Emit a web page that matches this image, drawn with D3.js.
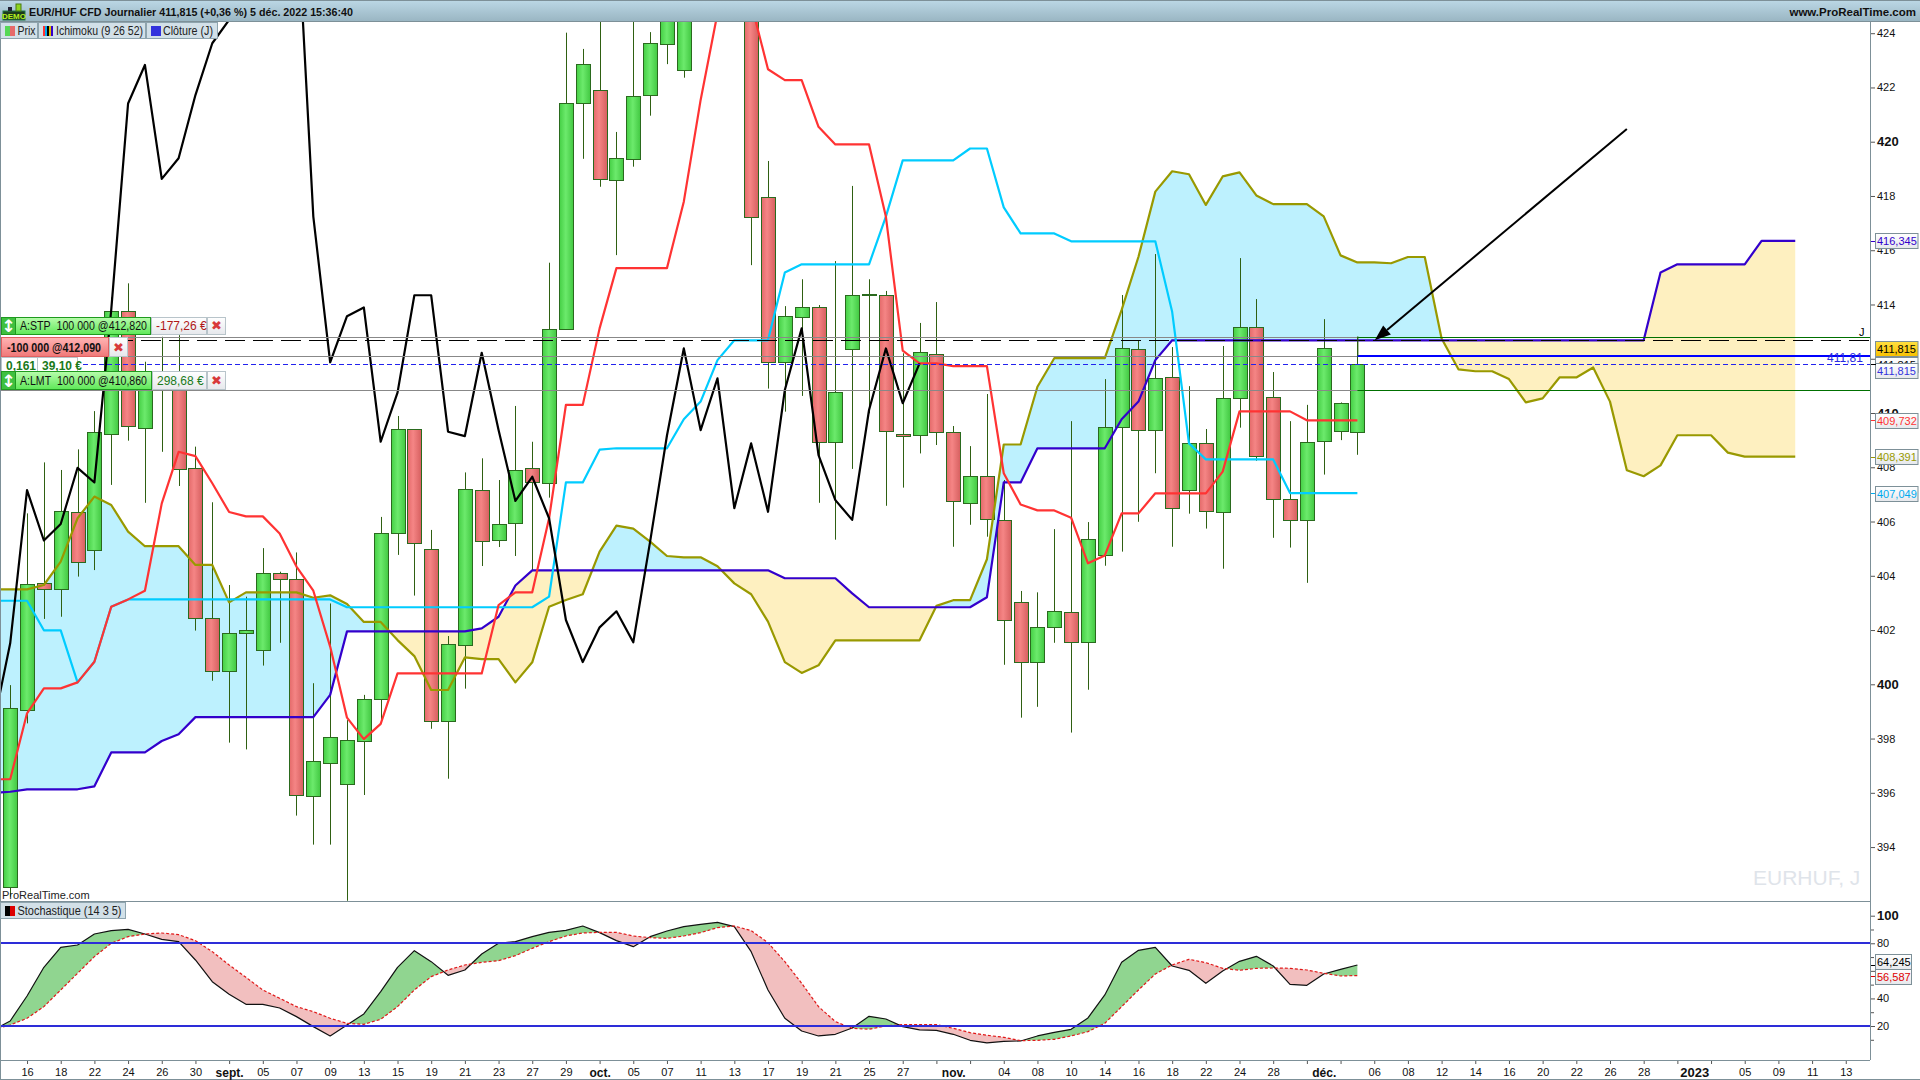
<!DOCTYPE html>
<html><head><meta charset="utf-8">
<script src="https://cdn.jsdelivr.net/npm/d3@7"></script>
<style>
html,body{margin:0;padding:0;background:#fff;overflow:hidden}
svg{display:block}
text{font-family:"Liberation Sans",Arial,sans-serif;font-size:11px}
</style></head><body>
<svg id="c" width="1920" height="1080"></svg>
<script>
// ---- candles, index 0..80 (41-43 lie above the visible range)
const candleOpen=[392.52,399.05,403.72,403.50,406.34,404.97,409.25,413.77,409.47,410.91,
411.52,407.96,402.43,400.48,401.88,401.25,404.09,403.87,395.87,397.09,
396.31,397.90,399.45,405.56,409.40,404.97,398.63,401.44,407.15,405.31,
405.93,407.96,407.41,413.08,421.41,421.89,418.58,419.39,421.70,423.59,
422.62,424.7,426.0,427.0,425.0,417.95,411.87,413.53,413.89,408.92,
412.35,414.32,414.34,409.21,409.18,412.16,409.29,406.67,407.67,406.04,
403.02,400.81,402.10,402.65,401.55,404.75,409.47,412.35,409.36,411.31,
407.15,408.88,406.34,410.54,413.16,410.58,406.82,406.04,408.96,409.32,409.32];
const candleClose=[399.11,403.71,403.50,406.38,404.50,409.31,413.77,409.54,410.97,411.40,
407.96,402.43,400.48,401.88,401.99,404.09,403.87,395.91,397.16,398.04,
397.93,399.45,405.56,409.40,405.20,398.63,401.47,407.19,405.27,405.90,
407.90,407.44,413.08,421.41,422.85,418.61,419.39,421.70,423.63,424.73,
424.73,426.0,427.0,425.0,417.21,411.87,413.56,413.89,408.92,410.76,
414.34,414.37,409.32,409.14,412.24,409.29,406.74,407.67,406.08,402.36,
400.81,402.10,402.69,401.55,405.34,409.47,412.38,409.36,411.28,406.49,
408.88,406.37,410.54,413.16,408.41,406.82,406.04,408.92,412.38,410.36,411.815];
const candleHigh=[399.97,406.30,408.18,407.90,408.66,410.07,414.26,414.78,411.89,412.81,
412.87,408.76,406.71,403.66,403.23,405.02,404.15,404.86,400.04,402.98,
398.68,399.61,406.17,409.89,409.40,405.69,401.78,407.81,408.33,407.53,
410.26,408.94,415.54,424.02,423.42,425.2,420.36,425.22,424.04,425.2,
425.3,426.5,427.5,427.5,426.0,419.29,413.94,414.93,413.98,415.60,
418.37,414.93,414.50,412.20,413.32,414.09,409.52,408.78,410.70,407.53,
403.44,403.39,405.72,409.70,405.98,411.25,414.35,412.69,415.86,412.43,
410.99,409.41,412.47,415.71,414.20,411.51,409.70,410.30,413.46,410.39,412.81];
const candleLow=[392.17,398.56,402.41,402.49,403.97,404.21,407.35,408.98,406.69,408.57,
407.31,401.98,400.13,397.85,397.60,400.69,401.53,395.16,394.09,394.09,
392.02,395.92,398.56,404.77,403.27,398.36,396.52,399.84,404.36,405.06,
404.73,404.21,406.88,413.08,419.37,418.34,415.82,419.08,420.96,422.86,
422.36,424.5,425.8,424.8,415.45,410.90,410.05,410.63,406.69,405.33,
407.94,409.99,406.58,407.25,408.51,408.82,405.07,405.88,405.44,400.72,
398.77,399.17,401.53,398.22,399.80,404.37,404.89,405.99,407.78,405.07,
406.29,405.74,404.26,409.46,408.24,405.40,405.04,403.74,407.73,409.00,408.46];

// ---- Ichimoku, every series starts at index -1
const chikou=[398.49,401.51,407.16,405.30,405.91,407.98,407.44,413.80,421.41,422.83,418.63,
419.39,421.72,423.63,424.49,426.4,428.3,430.1,428.9,417.24,411.87,
413.57,413.89,408.94,410.75,414.34,414.34,409.31,409.15,412.22,409.37,
406.76,407.65,406.12,402.37,400.82,402.10,402.69,401.55,405.26,409.17,
412.38,409.37,411.28,406.49,408.88,406.36,410.85,413.12,408.45,406.79,
406.06,410.11,412.38,410.36,411.83];
const tenkan=[396.50,396.50,398.93,399.85,399.85,400.07,400.83,402.86,403.13,403.45,406.67,
408.57,408.41,407.41,406.35,406.19,406.19,405.56,404.34,403.45,401.39,
398.77,397.98,398.54,400.40,400.40,400.40,400.40,400.40,400.40,402.92,
403.39,403.39,406.12,410.30,410.30,413.12,415.34,415.34,415.34,415.34,
417.79,421.54,424.73,426.45,425.10,422.67,422.27,422.27,420.55,419.90,
419.90,419.90,417.24,412.30,411.83,411.83,411.73,411.73,411.73,407.78,
406.63,406.41,406.41,406.14,404.46,404.75,406.30,406.30,407.04,407.04,
407.04,407.04,407.84,410.06,410.06,410.06,410.06,409.732,409.732,409.732,409.732];
const kijun=[403.08,403.08,403.08,401.99,401.99,400.07,400.83,402.86,403.13,403.13,403.13,
403.13,403.13,403.13,403.13,403.13,403.13,403.13,403.13,403.13,403.13,
402.84,402.84,402.84,402.84,402.84,402.84,402.84,402.84,402.84,402.84,
402.84,402.84,403.23,407.44,407.44,408.65,408.70,408.70,408.70,408.70,
409.77,410.42,411.95,412.68,412.68,412.68,415.18,415.48,415.48,415.48,
415.48,415.48,417.24,419.31,419.31,419.31,419.31,419.75,419.75,417.58,
416.62,416.62,416.62,416.33,416.33,416.33,416.33,416.33,416.33,413.73,
408.88,408.29,408.29,408.29,408.29,408.29,407.049,407.049,407.049,407.049,407.049];
const senkouA=[403.50,403.50,403.50,403.66,404.52,406.12,406.92,406.61,405.63,405.09,405.09,
405.09,404.40,404.40,403.02,403.39,403.39,403.39,403.39,403.19,403.28,
402.96,402.30,402.30,401.63,401.04,399.79,399.79,400.99,400.93,400.93,
400.07,400.81,402.86,403.11,403.32,404.89,405.85,405.74,405.26,404.73,
404.68,404.68,404.35,403.72,403.32,402.31,400.82,400.42,400.70,401.62,
401.62,401.62,401.62,401.62,401.62,402.89,403.10,403.10,404.61,408.84,
408.84,410.97,412.02,412.02,412.02,412.02,413.80,415.76,418.16,418.91,
418.80,417.67,418.72,418.87,418.02,417.70,417.70,417.70,417.25,415.81,
415.55,415.55,415.52,415.75,415.75,412.75,411.61,411.54,411.54,411.25,
410.39,410.54,411.31,411.31,411.68,410.42,407.89,407.67,408.07,409.18,
409.18,409.18,408.54,408.391,408.391,408.391,408.391];
const senkouB=[395.99,396.04,396.13,396.13,396.13,396.13,396.24,397.49,397.49,397.49,397.91,
398.16,398.79,398.79,398.79,398.79,398.79,398.79,398.79,398.79,399.61,
401.95,401.95,401.95,401.95,401.95,401.95,401.95,401.95,402.06,402.49,
403.64,404.20,404.20,404.20,404.20,404.20,404.20,404.20,404.20,404.20,
404.20,404.20,404.20,404.20,404.20,404.20,403.91,403.91,403.91,403.91,
403.35,402.84,402.84,402.84,402.84,402.84,402.84,402.84,403.21,407.44,
407.44,408.70,408.70,408.70,408.70,408.70,409.77,410.42,411.95,412.68,
412.68,412.68,412.68,412.68,412.68,412.68,412.68,412.68,412.68,412.68,
412.68,412.68,412.68,412.68,412.68,412.68,412.68,412.68,412.68,412.68,
412.68,412.68,412.68,412.68,412.68,412.68,412.68,412.68,415.18,
415.48,415.48,415.48,415.48,415.48,416.345,416.345,416.345];

// ---- stochastic, starts at index -1
const stochK=[17.1,23.65,41.78,62.57,77.07,78.76,86.74,89.15,90.12,86.74,82.87,
81.18,67.88,52.17,42.99,35.74,35.74,33.08,26.79,19.54,12.78,
20.75,28.73,44.92,62.57,74.65,66.67,56.77,60.63,72.23,79.97,
81.18,84.80,87.94,89.39,92.54,87.70,81.90,77.55,84.80,88.91,
92.05,93.75,95.20,92.05,73.93,46.13,25.59,16.40,12.78,13.98,
18.58,27.04,25.10,19.54,17.13,16.88,13.98,9.63,7.70,8.91,
9.15,12.78,15.43,17.61,25.83,42.50,66.19,74.89,77.07,63.53,
60.39,50.96,59.91,66.92,70.54,63.53,50.24,49.51,57.73,61.12,64.245];
const stochD=[17.61,20.75,25.59,34.05,46.13,58.21,70.30,79.97,84.80,86.74,87.46,
86.25,81.90,73.93,64.26,55.31,46.13,40.09,34.05,30.42,25.59,
21.96,21.23,24.86,34.05,46.13,55.80,60.63,64.26,66.19,67.40,
71.03,76.34,81.18,85.29,87.46,87.94,87.94,85.29,84.08,83.59,
85.29,87.70,91.33,92.54,89.15,80.45,66.67,50.96,34.05,23.17,
18.34,17.61,20.03,20.99,20.99,20.99,18.34,15.19,13.26,11.81,
9.39,9.63,10.36,12.78,15.92,21.96,34.05,46.13,57.73,64.26,
68.37,65.95,61.84,60.39,61.84,62.08,61.84,60.63,58.21,56.28,56.587];

// ---- axes
const priceTicks=[394,396,398,400,402,404,406,408,410,412,414,416,418,420,422,424];
const boldPrice=[400,410,420];
const stochTicks=[100,80,60,40,20];
const stochMinor=[90,70,50,30,10];
const xTickIdx=[1,3,5,7,9,11,13,15,17,19,21,23,25,27,29,31,33,35,37,39,41,43,45,47,49,51,53,56,59,61,63,65,67,69,71,73,75,78,81,83,85,87,89,91,93,95,97,100,103,105,107,109];
const xTickLabels=["16","18","22","24","26","30","sept.","05","07","09","13","15","19","21","23","27","29","oct.","05","07","11","13","17","19","21","25","27","nov.","04","08","10","14","16","18","22","24","28","déc.","06","08","12","14","16","20","22","26","28","2023","05","09","11","13"];
const xMinorIdx=[55,57,77,79,99,101];
const xNoTick=[56,78,100];
const boldX=["sept.","oct.","nov.","déc.","2023"];

// ---- levels and tags
const stopLevel=412.82, orderLevel=412.09, lastLevel=411.815, limitLevel=410.86, dashedLevel=412.68;
const obLevels=[80,20];
const priceTags=[
 {v:416.345,t:"416,345",c:"#3300cc",dy:0},
 {v:411.815,t:"411,815",c:"#000",dy:1},
 {v:411.815,t:"411,815",c:"#3333dd",dy:7},
 {v:411.815,t:"411,815",c:"#000",bg:"y",dy:-15},
 {v:409.732,t:"409,732",c:"#ff3333",dy:0},
 {v:408.391,t:"408,391",c:"#999900",dy:0},
 {v:407.049,t:"407,049",c:"#00aaee",dy:0}];
const stochTags=[{v:64.245,t:"64,245",c:"#000",dy:-3},{v:56.587,t:"56,587",c:"#e00000",dy:1}];
const lastBar=80, futureBar=106;

const svg=d3.select("#c");
const AX=1870, PT=22, PB=901, SB=1060;
const x=d3.scaleLinear().domain([0,lastBar]).range([10.2,10.2+lastBar*16.84]);
const yP=d3.scaleLinear().domain([400,424]).range([684.3,33.2]);
const yS=d3.scaleLinear().domain([20,100]).range([1026,915.7]);

// defs
const defs=svg.append("defs");
function grad(id,stops,vert){
  const g=defs.append("linearGradient").attr("id",id).attr("x1",0).attr("y1",0)
    .attr("x2",vert?0:1).attr("y2",vert?1:0);
  stops.forEach(s=>g.append("stop").attr("offset",s[0]).attr("stop-color",s[1]));
}
grad("gG",[[0,"#45cf45"],[.45,"#6cea6c"],[1,"#42c842"]]);
grad("gR",[[0,"#e46a6a"],[.4,"#f58585"],[1,"#d65f5f"]]);
grad("title",[[0,"#bcd8e6"],[1,"#9ab6c3"]],true);
grad("tagG",[[0,"#b8fcac"],[1,"#5ee858"]],true);
grad("tagR",[[0,"#ffb4b4"],[1,"#f07878"]],true);
grad("tagW",[[0,"#ffffff"],[1,"#e6e8ec"]],true);
grad("tagY",[[0,"#ffe040"],[1,"#f8c000"]],true);
defs.append("clipPath").attr("id","cp").append("rect").attr("x",1).attr("y",PT).attr("width",AX-1).attr("height",PB-PT);
defs.append("clipPath").attr("id","cs").append("rect").attr("x",1).attr("y",PB+1).attr("width",AX-1).attr("height",SB-PB-1);

svg.append("rect").attr("width",1920).attr("height",1080).attr("fill","#fff");

// two-colour band between series
function band(g,A,B,start,xs,ys,cPos,cNeg){
  const diff=i=>(A[i]-B[i])||1e-6;
  const runs=[];let run=[];
  for(let i=0;i<A.length;i++){
    const a=diff(i);
    if(i>0){
      const p=diff(i-1);
      if(p*a<0){
        const t=p/(p-a),val=A[i-1]+t*(A[i]-A[i-1]),k=start+i-1+t;
        run.push({k,a:val,b:val});runs.push({pos:p>0,pts:run});run=[{k,a:val,b:val}];
      }
    }
    run.push({k:start+i,a:A[i],b:B[i]});
  }
  runs.push({pos:diff(A.length-1)>0,pts:run});
  const area=d3.area().x(d=>xs(d.k)).y0(d=>ys(d.a)).y1(d=>ys(d.b));
  g.selectAll(null).data(runs).join("path").attr("d",d=>area(d.pts)).attr("fill",d=>d.pos?cPos:cNeg);
}
function line(g,vals,start,xs,ys,col,w,dash){
  const l=d3.line().x((d,i)=>xs(start+i)).y(d=>ys(d));
  const p=g.append("path").attr("d",l(vals)).attr("fill","none").attr("stroke",col).attr("stroke-width",w).attr("stroke-linejoin","round");
  if(dash)p.attr("stroke-dasharray",dash);
  return p;
}

// ---- price panel
const gp=svg.append("g").attr("clip-path","url(#cp)");
band(gp,senkouA,senkouB,-1,x,yP,"#bdf1fe","#fef0c0");

const candles=d3.range(candleOpen.length).map(i=>({i,o:candleOpen[i],h:candleHigh[i],l:candleLow[i],c:candleClose[i]}));
gp.selectAll("line.w").data(candles).join("line").attr("class","w")
  .attr("x1",d=>Math.round(x(d.i))+.5).attr("x2",d=>Math.round(x(d.i))+.5)
  .attr("y1",d=>yP(d.h)).attr("y2",d=>yP(d.l)).attr("stroke","#2f6012");
gp.selectAll("rect.b").data(candles).join("rect").attr("class","b")
  .attr("x",d=>Math.round(x(d.i))-6.5).attr("width",14)
  .attr("y",d=>Math.round(yP(Math.max(d.o,d.c)))+.5)
  .attr("height",d=>Math.max(1,Math.round(Math.abs(yP(d.o)-yP(d.c)))))
  .attr("fill",d=>d.c>=d.o?"url(#gG)":"url(#gR)")
  .attr("stroke","#2a6a1e");

line(gp,senkouA,-1,x,yP,"#999900",2.2);
line(gp,senkouB,-1,x,yP,"#3300cc",2.2);
line(gp,kijun,-1,x,yP,"#00ccff",2.2);
line(gp,tenkan,-1,x,yP,"#ff3333",2.2);
line(gp,chikou,-1,x,yP,"#000",2.2);

// levels
const hl=(y,x1,x2,c,w,dash)=>{const l=svg.append("line").attr("x1",x1).attr("x2",x2).attr("y1",y).attr("y2",y).attr("stroke",c).attr("stroke-width",w);if(dash)l.attr("stroke-dasharray",dash);return l;};
const xL=x(lastBar);
[stopLevel,orderLevel,limitLevel].forEach(v=>hl(Math.round(yP(v))+.5,1,xL,"#888",1));
hl(Math.round(yP(dashedLevel))+.5,1,AX,"#000",1.2,"20 8");
hl(Math.round(yP(lastLevel))+.5,83,AX,"#2222ee",1,"5 3");
hl(Math.round(yP(stopLevel))+.5,xL,AX,"#007000",1);
hl(Math.round(yP(limitLevel))+.5,xL,AX,"#007000",1);
hl(Math.round(yP(orderLevel)),xL,AX,"#0000ff",2);
svg.append("line").attr("x1",xL+.5).attr("x2",xL+.5).attr("y1",yP(stopLevel)).attr("y2",yP(orderLevel)).attr("stroke","#2f6012");
svg.append("text").attr("x",1827).attr("y",362).attr("fill","#2a2ae0").style("font-size","12px").text("411,81");
svg.append("text").attr("x",1859).attr("y",336).attr("fill","#000").text("J");

// arrow
(function(){
  const x0=x(96),y0=yP(420.47),x1=x(81.03),y1=yP(412.68);
  const a=Math.atan2(y1-y0,x1-x0),L=16,W=6;
  const bx=x1-L*Math.cos(a),by=y1-L*Math.sin(a);
  svg.append("line").attr("x1",x0).attr("y1",y0).attr("x2",bx).attr("y2",by).attr("stroke","#000").attr("stroke-width",2);
  svg.append("path").attr("fill","#000").attr("d",d3.line()([[x1,y1],[bx-W*Math.sin(a),by+W*Math.cos(a)],[bx+W*Math.sin(a),by-W*Math.cos(a)]])+"Z");
})();

svg.append("text").attr("x",2).attr("y",899).attr("fill","#222").text("ProRealTime.com");
svg.append("text").attr("x",1753).attr("y",885).attr("fill","#dfe4ea").style("font-size","21px").text("EURHUF, J");

// ---- stochastic panel
const gs=svg.append("g").attr("clip-path","url(#cs)");
band(gs,stochK,stochD,-1,x,yS,"#90d590","#f2bfbf");
line(gs,stochK,-1,x,yS,"#111",1.2);
line(gs,stochD,-1,x,yS,"#e01818",1.2,"3 2");
obLevels.forEach(v=>hl(Math.round(yS(v)),1,AX,"#2d2dd8",2));

// ---- frame
const frame="#7d9098";
hl(PB+.5,1,AX,frame,1);
hl(SB+.5,0,AX,frame,1);
hl(1079.5,0,1920,frame,1);
svg.append("line").attr("x1",.5).attr("x2",.5).attr("y1",22).attr("y2",1080).attr("stroke",frame);
svg.append("line").attr("x1",AX+.5).attr("x2",AX+.5).attr("y1",22).attr("y2",SB).attr("stroke",frame);

// ---- axes
const ap=svg.append("g").attr("transform",`translate(${AX+1},0)`)
  .call(d3.axisRight(yP).tickValues(priceTicks).tickSize(4).tickPadding(2).tickFormat(d3.format("d")));
ap.select(".domain").remove();
ap.selectAll(".tick line").attr("stroke","#555");
ap.selectAll(".tick text").attr("fill","#111").style("font-family",'"Liberation Sans"').style("font-size",d=>boldPrice.includes(d)?"13px":"11px").style("font-weight",d=>boldPrice.includes(d)?"700":"400");

const as=svg.append("g").attr("transform",`translate(${AX+1},0)`)
  .call(d3.axisRight(yS).tickValues(stochTicks).tickSize(4).tickPadding(2).tickFormat(d3.format("d")));
as.select(".domain").remove();
as.selectAll(".tick line").attr("stroke","#555");
as.selectAll(".tick text").attr("fill","#111").style("font-family",'"Liberation Sans"').style("font-size",d=>d===100?"13px":"11px").style("font-weight",d=>d===100?"700":"400");
const am=svg.append("g").attr("transform",`translate(${AX+1},0)`)
  .call(d3.axisRight(yS).tickValues(stochMinor).tickSize(3).tickFormat(""));
am.select(".domain").remove();am.selectAll(".tick line").attr("stroke","#555");

const labelOf=new Map(xTickIdx.map((k,i)=>[k,xTickLabels[i]]));
const ax=svg.append("g").attr("transform",`translate(0,${SB+1})`)
  .call(d3.axisBottom(x).tickValues(xTickIdx.concat(xMinorIdx)).tickSize(3).tickPadding(4).tickFormat(k=>labelOf.get(k)||""));
ax.select(".domain").remove();
ax.selectAll(".tick line").attr("stroke",d=>xNoTick.includes(d)?"none":"#555");
ax.selectAll(".tick text").attr("fill","#111").style("font-family",'"Liberation Sans"')
  .style("font-size",d=>labelOf.get(d)==="2023"?"13px":boldX.includes(labelOf.get(d))?"12px":"11px").style("font-weight",d=>boldX.includes(labelOf.get(d))?"700":"400");

// ---- value tags
function tags(list,ys,width){
  list.forEach(d=>{
    const cy=ys(d.v),y=Math.round(cy+d.dy-7.5);
    svg.append("line").attr("x1",AX+1).attr("x2",AX+6).attr("y1",Math.round(cy)+.5).attr("y2",Math.round(cy)+.5).attr("stroke",d.c);
    svg.append("rect").attr("x",AX+5.5).attr("y",y+.5).attr("width",width).attr("height",15).attr("fill",d.bg==="y"?"url(#tagY)":"url(#tagW)").attr("stroke","#7d9098");
    svg.append("text").attr("x",AX+7).attr("y",y+12).attr("fill",d.c).text(d.t);
  });
}
tags(priceTags,yP,42.5);
tags(stochTags,yS,36);

// ---- title bar
svg.append("rect").attr("width",1920).attr("height",21).attr("fill","url(#title)");
hl(.5,0,1920,frame,1);hl(21.5,0,1920,frame,1);
svg.append("text").attr("x",29).attr("y",16).attr("fill","#111").attr("textLength",324).attr("lengthAdjust","spacingAndGlyphs").style("font-size","11.5px").style("font-weight","700").text("EUR/HUF CFD Journalier 411,815 (+0,36 %) 5 déc. 2022 15:36:40");
svg.append("text").attr("x",1916).attr("y",16).attr("text-anchor","end").attr("fill","#111").style("font-size","11.5px").style("font-weight","700").text("www.ProRealTime.com");
// demo badge
const dg=svg.append("g");
dg.append("rect").attr("x",3).attr("y",11).attr("width",22).attr("height",9).attr("fill","#1c3a1c").attr("stroke","#274");
dg.append("rect").attr("x",8).attr("y",7).attr("width",4).attr("height",4).attr("fill","#223");
dg.append("rect").attr("x",16).attr("y",4).attr("width",5).attr("height",7).attr("fill","#8fd620").attr("stroke","#4a7a10");
dg.append("text").attr("x",14).attr("y",19).attr("text-anchor","middle").attr("fill","#b6f020").style("font-size","8px").style("font-weight","700").text("DEMO");

// ---- legends
function legendBox(x0,y0,w,h,label,icon,tx,tl){
  svg.append("rect").attr("x",x0+.5).attr("y",y0+.5).attr("width",w-1).attr("height",h-1).attr("fill","#d2e0e8").attr("stroke","#8ea4ae");
  const n=icon.length,iw=10/n;
  icon.forEach((c,i)=>svg.append("rect").attr("x",x0+5+i*iw).attr("y",y0+4).attr("width",iw).attr("height",10).attr("fill",c));
  svg.append("text").attr("x",tx).attr("y",y0+13).attr("fill","#222").attr("textLength",tl).attr("lengthAdjust","spacingAndGlyphs").style("font-size","12px").text(label);
}
legendBox(0,22,38,17,"Prix",["#55d855","#e66a6a"],17.5,18);
legendBox(38,22,108,17,"Ichimoku (9 26 52)",["#ff3333","#00aaee","#000","#ddbb00","#3300cc"],56,87);
legendBox(146,22,72,17,"Clôture (J)",["#3333dd"],163,50);
legendBox(0,902,126,17,"Stochastique (14 3 5)",["#000","#dd0000"],17.5,104);

// ---- order tags
function orderTag(y,h,w1,txt,fill,bold,handle,w2,pl,plCol,tx,tl){
  let cx=1;
  if(handle){
    svg.append("rect").attr("x",cx+.5).attr("y",y+.5).attr("width",14).attr("height",h-1).attr("fill","#3fc040").attr("stroke","#1e9a1e");
    svg.append("text").attr("x",cx+7.5).attr("y",y+h-3).attr("text-anchor","middle").attr("fill","#fff").style("font-family","DejaVu Sans").style("font-size","17px").style("font-weight","700").text("↕");
    cx+=14;
  }
  svg.append("rect").attr("x",cx+.5).attr("y",y+.5).attr("width",w1-(cx-1)-1).attr("height",h-1).attr("fill",fill).attr("stroke",bold?"#e06060":"#1e9a1e");
  svg.append("text").attr("x",tx).attr("y",y+h-5).attr("fill","#111").attr("textLength",tl).attr("lengthAdjust","spacingAndGlyphs").style("font-size","12px").style("font-weight",bold?"700":"400").text(txt);
  let ex=1+w1;
  if(pl){
    svg.append("rect").attr("x",ex+.5).attr("y",y+.5).attr("width",w2-1).attr("height",h-1).attr("fill","url(#tagW)").attr("stroke","#b8c4ca");
    svg.append("text").attr("x",ex+5).attr("y",y+h-5).attr("fill",plCol).style("font-size","12px").text(pl);
    ex+=w2;
  }
  svg.append("rect").attr("x",ex+.5).attr("y",y+.5).attr("width",18).attr("height",h-1).attr("fill","url(#tagW)").attr("stroke","#b8c4ca");
  svg.append("text").attr("x",ex+9.5).attr("y",y+h-5).attr("text-anchor","middle").attr("fill","#d83a3a").style("font-family","DejaVu Sans").style("font-size","13px").text("✖");
}
svg.append("rect").attr("x",1.5).attr("y",357.5).attr("width",36).attr("height",14).attr("fill","#fff").attr("stroke","#b8c4ca");
svg.append("rect").attr("x",37.5).attr("y",357.5).attr("width",40).attr("height",14).attr("fill","#fff").attr("stroke","#b8c4ca");
svg.append("text").attr("x",6).attr("y",370).attr("fill","#1a7a1a").style("font-size","12px").style("font-weight","700").text("0,161");
svg.append("text").attr("x",42).attr("y",370).attr("fill","#1a7a1a").style("font-size","12px").style("font-weight","700").text("39,10 €");
orderTag(317,18,150,"A:STP\u00a0\u00a0100 000 @412,820","url(#tagG)",false,true,56,"-177,26 €","#b01818",20,127);
orderTag(337,20,108,"-100 000 @412,090","url(#tagR)",true,false,0,null,null,7,94);
orderTag(371,19,151,"A:LMT\u00a0\u00a0100 000 @410,860","url(#tagG)",false,true,55,"298,68 €","#1a7a1a",20,127);
</script>
</body></html>
